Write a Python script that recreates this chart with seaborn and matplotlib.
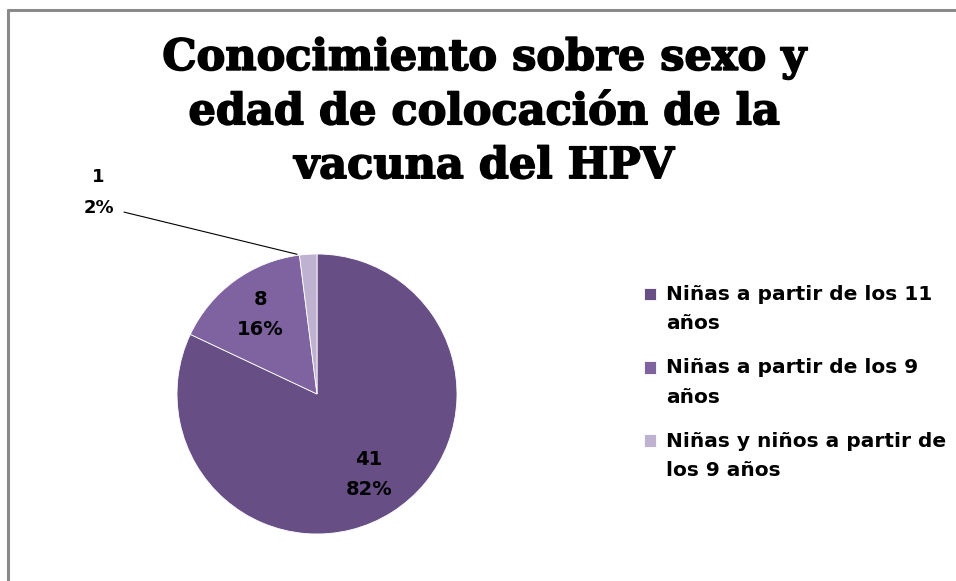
import matplotlib
matplotlib.use("Agg")
import matplotlib.pyplot as plt
import matplotlib.patheffects as pe
import seaborn as sns
import numpy as np
from matplotlib.lines import Line2D
from matplotlib.patches import Rectangle
from matplotlib.legend_handler import HandlerPatch

sns.set_theme(style="white")
plt.rcParams['font.family'] = ['DejaVu Sans']
plt.rcParams['text.color'] = 'black'

# datos
categorias = ['Niñas a partir de los 11\naños',
              'Niñas a partir de los 9\naños',
              'Niñas y niños a partir de\nlos 9 años']
valores = [41, 8, 1]
colores = sns.color_palette(['#674F86', '#7F63A0', '#BFB2D0'])
titulo = 'Conocimiento sobre sexo y\nedad de colocación de la\nvacuna del HPV'

W, H = 956, 581
fig = plt.figure(figsize=(W / 100, H / 100), dpi=100)

# marco gris (solo arriba e izquierda visibles)
fig.add_artist(Line2D([8 / W, 8 / W], [0, 1 - 10 / H], transform=fig.transFigure,
                      color='#8a8a8a', lw=2.2))
fig.add_artist(Line2D([8 / W, 1], [1 - 10 / H, 1 - 10 / H], transform=fig.transFigure,
                      color='#8a8a8a', lw=2.2))

# titulo
fig.text(484 / W, 1 - 112 / H, titulo, ha='center', va='center',
         fontsize=31, fontweight='bold', family='DejaVu Serif',
         linespacing=1.36,
         path_effects=[pe.withStroke(linewidth=1.2, foreground='black')])

# pastel
cx, cy, r = 317, 394, 140
ax = fig.add_axes([(cx - r) / W, (H - cy - r) / H, 2 * r / W, 2 * r / H])
total = sum(valores)
wedges, _ = ax.pie(valores, colors=colores, startangle=90, counterclock=False,
                   wedgeprops=dict(linewidth=0.6, edgecolor='white'))
ax.set_xlim(-1, 1)
ax.set_ylim(-1, 1)
ax.set_aspect('equal')
ax.axis('off')

for w, v in zip(wedges, valores):
    ang = np.deg2rad((w.theta1 + w.theta2) / 2)
    etiqueta = f'{v}\n{round(100 * v / total)}%'
    if v / total > 0.05:
        ax.text(0.69 * np.cos(ang), 0.69 * np.sin(ang) + 0.01, etiqueta, ha='center',
                va='center', fontsize=14, fontweight='bold', linespacing=1.72)
    else:
        ax.annotate(etiqueta, xy=(np.cos(ang) - 0.08, np.sin(ang)), xytext=(-1.45, 1.44),
                    ha='right', va='center', multialignment='center',
                    fontsize=13, fontweight='bold',
                    linespacing=1.95, annotation_clip=False,
                    arrowprops=dict(arrowstyle='-', color='black', lw=0.8,
                                    shrinkA=5, shrinkB=0, relpos=(1.0, 0.15)))


# cuadrito de la leyenda alineado con la primera linea del texto
def cuadro_arriba(legend, orig_handle, xdescent, ydescent, width, height, fontsize):
    return Rectangle((-xdescent, -ydescent + 11.2), width, height)


fig.legend(wedges, categorias, loc='upper left', bbox_to_anchor=(626 / W, 1 - 267 / H),
           frameon=False, prop=dict(weight='bold', size=14.5),
           handlelength=0.6, handleheight=0.6, handletextpad=0.5,
           labelspacing=1.25,
           handler_map={w: HandlerPatch(patch_func=cuadro_arriba) for w in wedges})
for t in fig.legends[0].get_texts():
    t.set_linespacing(1.68)

fig.savefig('out.png', dpi=100, facecolor='white')
